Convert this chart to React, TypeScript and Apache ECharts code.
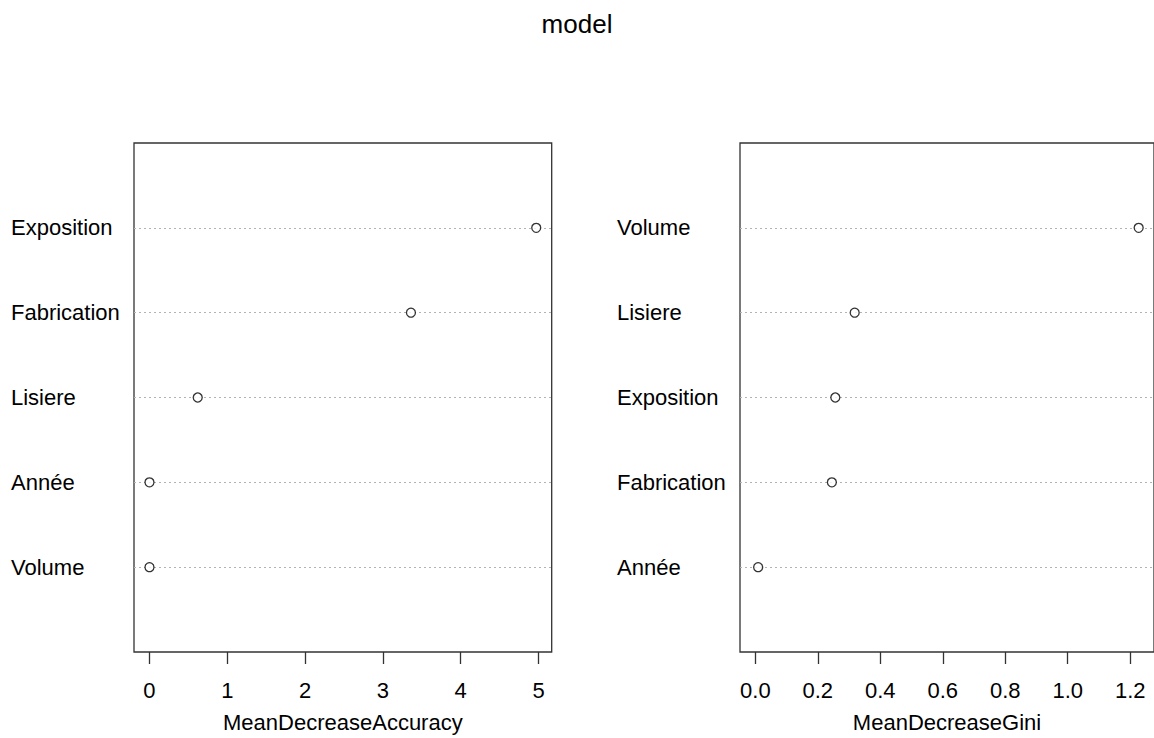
import React, { useEffect, useRef } from "react";
import * as echarts from "echarts";

// Left panel: MeanDecreaseAccuracy (bottom to top)
const accCategories = ["Volume", "Année", "Lisiere", "Fabrication", "Exposition"];
const accValues = [0.0, 0.0, 0.62, 3.36, 4.97];
const accTicks = [0, 1, 2, 3, 4, 5];

// Right panel: MeanDecreaseGini (bottom to top)
const giniCategories = ["Année", "Fabrication", "Exposition", "Lisiere", "Volume"];
const giniValues = [0.009, 0.245, 0.256, 0.318, 1.227];
const giniTicks = [0, 0.2, 0.4, 0.6, 0.8, 1.0, 1.2];

const titleText = "model";
const accName = "MeanDecreaseAccuracy";
const giniName = "MeanDecreaseGini";

const FONT = "'Liberation Sans', Arial, sans-serif";

export default function App() {
  const ref = useRef<HTMLDivElement>(null);

  useEffect(() => {
    if (!ref.current) return;
    const chart = echarts.init(ref.current, undefined, { renderer: "svg" });

    const pad = (vals: number[], fromZero: boolean) => {
      const lo = fromZero ? 0 : Math.min(...vals);
      const hi = Math.max(...vals);
      const d = (hi - lo) * 0.04;
      return [lo - d, hi + d];
    };
    const [accMin, accMax] = pad(accValues, false);
    const [giniMin, giniMax] = pad(giniValues, true);

    const xAxisCommon = (min: number, max: number, ticks: number[], name: string, gridIndex: number, dec: number) => ({
      type: "value",
      gridIndex,
      min,
      max,
      name,
      nameLocation: "middle",
      nameGap: 59,
      nameTextStyle: { fontSize: 22, color: "#000", fontFamily: FONT },
      axisLine: { show: false },
      splitLine: { show: false },
      axisTick: {
        show: true,
        length: 12,
        customValues: ticks,
        lineStyle: { color: "#333", width: 1.3 },
      },
      axisLabel: {
        show: true,
        customValues: ticks,
        margin: 27,
        fontSize: 22,
        color: "#000",
        fontFamily: FONT,
        formatter: (v: number) => v.toFixed(dec),
      },
    });

    const yAxisCommon = (cats: string[], gridIndex: number) => ({
      type: "value",
      gridIndex,
      min: 0,
      max: cats.length + 1,
      interval: 1,
      axisLine: { show: false },
      axisTick: { show: false },
      splitLine: { show: false },
      axisLabel: {
        show: true,
        align: "left",
        margin: 123,
        fontSize: 22,
        color: "#000",
        fontFamily: FONT,
        formatter: (v: number) => (v >= 1 && v <= cats.length ? cats[v - 1] : ""),
      },
    });

    const guideSeries = (cats: string[], idx: number) => ({
      type: "scatter",
      xAxisIndex: idx,
      yAxisIndex: idx,
      data: [],
      z: 1,
      silent: true,
      markLine: {
        silent: true,
        symbol: ["none", "none"],
        label: { show: false },
        lineStyle: { color: "#b3b3b3", type: [2, 3], width: 1 },
        data: cats.map((_, i) => ({ yAxis: i + 1 })),
      },
    });

    const pointSeries = (vals: number[], idx: number) => ({
      type: "scatter",
      xAxisIndex: idx,
      yAxisIndex: idx,
      z: 5,
      symbol: "circle",
      symbolSize: 9,
      itemStyle: { color: "#fff", borderColor: "#000", borderWidth: 1.3 },
      data: vals.map((v, i) => [v, i + 1]),
    });

    chart.setOption({
      animation: false,
      backgroundColor: "#fff",
      title: {
        text: titleText,
        left: "center",
        top: 6,
        textStyle: { fontSize: 26, fontWeight: "normal", color: "#000", fontFamily: FONT },
      },
      grid: [
        {
          left: 134,
          top: 143,
          width: 417.7,
          height: 514,
          show: true,
          borderColor: "#333",
          borderWidth: 1.3,
          backgroundColor: "transparent",
          containLabel: false,
        },
        {
          left: 740,
          top: 143,
          width: 415,
          height: 514,
          show: true,
          borderColor: "#333",
          borderWidth: 1.3,
          backgroundColor: "transparent",
          containLabel: false,
        },
      ],
      xAxis: [
        xAxisCommon(accMin, accMax, accTicks, accName, 0, 0),
        xAxisCommon(giniMin, giniMax, giniTicks, giniName, 1, 1),
      ],
      yAxis: [yAxisCommon(accCategories, 0), yAxisCommon(giniCategories, 1)],
      series: [
        guideSeries(accCategories, 0),
        guideSeries(giniCategories, 1),
        pointSeries(accValues, 0),
        pointSeries(giniValues, 1),
      ],
    });

    return () => chart.dispose();
  }, []);

  return (
    <div
      ref={ref}
      style={{ position: "fixed", left: 0, top: 0, width: 1154, height: 738, background: "#fff" }}
    />
  );
}
